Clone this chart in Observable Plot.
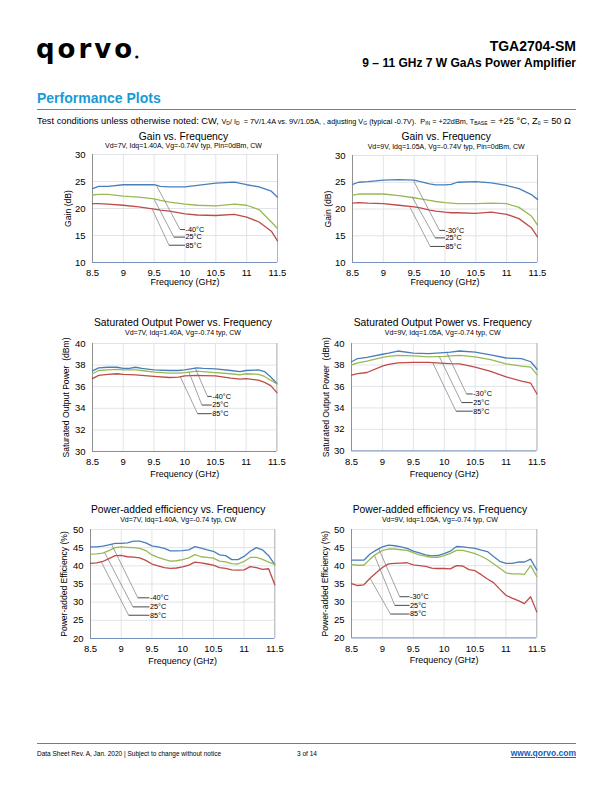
<!DOCTYPE html>
<html><head><meta charset="utf-8">
<script src="https://cdn.jsdelivr.net/npm/d3@7"></script>
<script src="https://cdn.jsdelivr.net/npm/@observablehq/plot@0.6"></script>
<style>
body{margin:0;background:#fff;}
#page{position:relative;width:612px;height:792px;overflow:hidden;font-family:"Liberation Sans",Arial,sans-serif;color:#000;background:#fff;}
.abs{position:absolute;line-height:1;white-space:nowrap;}
.ct{position:absolute;width:320px;text-align:center;line-height:1;white-space:nowrap;}
.chart{position:absolute;}
.sm{font-size:7.3px;}
sub{font-size:5px;vertical-align:-1px;}
</style></head><body><div id="page">
<div class="abs" style="left:36px;top:36px;font-family:'DejaVu Sans';font-weight:bold;font-size:26px;letter-spacing:3px;">qorvo<span style="font-size:4px;letter-spacing:0">&#9679;</span></div>
<div class="abs" style="right:36px;top:38.7px;font-weight:bold;font-size:14px;">TGA2704-SM</div>
<div class="abs" style="right:36px;top:57.1px;font-weight:bold;font-size:12px;">9 – 11 GHz 7 W GaAs Power Amplifier</div>
<div class="abs" style="left:37px;top:91.2px;font-weight:bold;font-size:14px;color:#1a9ad6;">Performance Plots</div>
<div class="abs" style="left:37px;top:109px;width:539px;height:1.4px;background:#1a9ad6;"></div>
<div class="abs" style="left:37px;top:117px;font-size:9.3px;">Test conditions unless otherwise noted: CW, <span class="sm">V<sub>D</sub>/ I<sub>D</sub> &nbsp;= 7V/1.4A vs. 9V/1.05A, , adjusting V<sub>G</sub> (typical -0.7V). &nbsp;P<sub>IN</sub> = +22dBm, T<sub>BASE</sub></span> = +25 °C, Z<sub>0</sub> = 50 Ω</div>
<div class="abs" style="left:37px;top:742.5px;width:539px;height:1.2px;background:#1a9ad6;"></div>
<div class="abs" style="left:37px;top:750.5px;font-size:6.5px;">Data Sheet Rev. A, Jan. 2020 | Subject to change without notice</div>
<div class="abs" style="left:297px;top:750.5px;font-size:6.5px;">3 of 14</div>
<div class="abs" style="right:36px;top:749px;font-size:8.5px;font-weight:bold;color:#1560bd;text-decoration:underline;">www.qorvo.com</div>
</div>
<script>
// ---------- data ----------
const seriesColors = ["#4a7ebb", "#98b954", "#be4b48"];
const xTicks = [8.5, 9, 9.5, 10, 10.5, 11, 11.5];
const gainTicks = [10, 15, 20, 25, 30];
const psatTicks = [30, 32, 34, 36, 38, 40];
const paeTicks = [20, 25, 30, 35, 40, 45, 50];

// Gain, Vd=7V
const freqGain7 = [8.5, 8.6, 8.75, 9.0, 9.25, 9.5, 9.6, 9.75, 10.0, 10.2, 10.5, 10.8, 11.0, 11.2, 11.4, 11.5];
const gain7_m40 = [23.7, 24.1, 24.1, 24.4, 24.4, 24.4, 24.1, 24.0, 24.0, 24.3, 24.7, 24.9, 24.4, 24.0, 23.2, 22.1];
const gain7_25  = [22.5, 22.6, 22.6, 22.3, 22.1, 21.8, 21.5, 21.2, 20.8, 20.6, 20.5, 20.8, 20.6, 19.8, 17.5, 16.3];
const gain7_85  = [20.9, 20.9, 20.8, 20.6, 20.3, 19.9, 19.7, 19.5, 19.0, 18.8, 18.7, 18.9, 18.4, 17.5, 15.8, 14.0];

// Gain, Vd=9V
const freqGain9 = [8.5, 8.6, 8.75, 9.0, 9.25, 9.5, 9.6, 9.75, 9.85, 10.0, 10.1, 10.2, 10.5, 10.75, 11.0, 11.2, 11.4, 11.5];
const gain9_m30 = [24.6, 25.0, 25.1, 25.4, 25.5, 25.4, 25.1, 24.7, 24.5, 24.5, 24.6, 25.0, 25.1, 24.9, 24.4, 23.8, 22.7, 21.8];
const gain9_25  = [22.6, 22.8, 22.8, 22.8, 22.5, 22.1, 21.9, 21.6, 21.4, 21.2, 21.1, 21.0, 21.0, 21.1, 21.0, 20.3, 18.7, 17.0];
const gain9_85  = [21.1, 21.2, 21.1, 21.0, 20.7, 20.4, 20.2, 19.8, 19.6, 19.4, 19.3, 19.3, 19.2, 19.4, 19.0, 18.2, 16.5, 14.8];

// Psat, Vd=7V
const freqPsat7 = [8.5, 8.6, 8.75, 8.9, 9.0, 9.1, 9.2, 9.3, 9.5, 9.75, 9.9, 10.0, 10.2, 10.3, 10.5, 10.75, 10.9, 11.0, 11.2, 11.3, 11.4, 11.5];
const psat7_m40 = [37.47, 37.75, 37.8, 37.8, 37.7, 37.7, 37.8, 37.7, 37.55, 37.5, 37.5, 37.55, 37.75, 37.7, 37.65, 37.5, 37.4, 37.5, 37.55, 37.4, 36.9, 36.3];
const psat7_25  = [37.2, 37.5, 37.55, 37.6, 37.55, 37.55, 37.55, 37.5, 37.35, 37.25, 37.25, 37.3, 37.45, 37.4, 37.3, 37.2, 37.1, 37.2, 37.15, 36.95, 36.6, 36.25];
const psat7_85  = [36.75, 37.05, 37.15, 37.2, 37.15, 37.12, 37.1, 37.05, 36.95, 36.85, 36.88, 37.0, 37.05, 37.03, 37.0, 36.8, 36.7, 36.75, 36.6, 36.4, 36.1, 35.45];

// Psat, Vd=9V
const freqPsat9 = [8.5, 8.6, 8.75, 9.0, 9.1, 9.25, 9.5, 9.75, 10.0, 10.1, 10.25, 10.5, 10.75, 11.0, 11.25, 11.4, 11.5];
const psat9_m30 = [38.3, 38.6, 38.7, 39.0, 39.1, 39.3, 39.1, 39.05, 39.15, 39.2, 39.3, 39.2, 38.95, 38.65, 38.6, 38.3, 37.6];
const psat9_25  = [38.0, 38.2, 38.35, 38.7, 38.8, 38.9, 38.85, 38.75, 38.8, 38.85, 38.9, 38.75, 38.5, 38.1, 37.9, 37.8, 37.1];
const psat9_85  = [37.05, 37.2, 37.3, 37.9, 38.05, 38.2, 38.25, 38.25, 38.15, 38.12, 38.1, 37.8, 37.4, 36.9, 36.5, 36.3, 35.3];

// PAE (both bias points)
const freqPae = [8.5, 8.6, 8.7, 8.8, 8.9, 9.0, 9.1, 9.2, 9.3, 9.4, 9.5, 9.6, 9.7, 9.8, 9.9, 10.0, 10.1, 10.2, 10.3, 10.4, 10.5, 10.6, 10.7, 10.8, 10.9, 11.0, 11.1, 11.2, 11.3, 11.4, 11.5];
const pae7_m40 = [45.2, 45.2, 45.4, 45.8, 46.2, 46.2, 46.3, 46.8, 46.8, 46.3, 45.5, 45.2, 44.8, 44.1, 44.1, 44.2, 44.4, 45.3, 44.9, 44.4, 44.0, 43.0, 42.8, 41.7, 41.7, 42.6, 44.0, 45.0, 44.4, 42.8, 40.3];
const pae7_25  = [43.2, 43.3, 43.5, 44.2, 45.0, 45.2, 45.1, 45.0, 44.8, 44.2, 43.0, 42.3, 41.8, 41.3, 41.4, 41.7, 42.2, 43.1, 42.5, 42.3, 42.1, 41.3, 41.1, 40.6, 40.5, 41.2, 42.3, 42.3, 41.8, 41.0, 40.4];
const pae7_85  = [40.7, 40.8, 41.2, 42.0, 42.8, 42.9, 42.5, 42.4, 42.2, 41.5, 40.5, 40.0, 39.5, 39.3, 39.4, 39.7, 40.2, 41.0, 40.8, 40.5, 40.2, 39.5, 39.3, 38.9, 38.8, 38.9, 39.8, 39.5, 39.0, 39.2, 34.8];
const pae9_m30 = [41.5, 41.5, 41.5, 43.2, 44.3, 45.2, 45.7, 45.5, 45.2, 44.8, 44.0, 43.5, 43.0, 42.7, 42.8, 43.3, 44.0, 45.3, 45.2, 45.0, 44.8, 44.3, 43.9, 42.5, 41.2, 40.6, 40.6, 41.0, 41.0, 41.8, 38.8];
const pae9_25  = [40.3, 40.1, 40.1, 41.8, 43.2, 44.2, 44.6, 44.6, 44.4, 44.2, 43.6, 43.0, 42.6, 42.3, 42.3, 42.8, 43.4, 44.2, 44.2, 43.8, 43.3, 42.6, 41.7, 40.5, 39.3, 38.0, 37.7, 37.7, 37.6, 40.0, 37.0];
const pae9_85  = [35.0, 34.5, 34.7, 36.5, 38.0, 39.5, 40.5, 40.6, 40.7, 40.8, 40.2, 40.0, 39.8, 39.3, 39.2, 39.2, 39.1, 40.0, 39.9, 38.9, 38.6, 37.5, 36.3, 35.3, 33.5, 31.8, 31.0, 30.3, 29.5, 31.4, 27.2];

// data-label leader lines: [curve point, elbow, label point] in data units
const leadGain7 = [
  {label: "-40°C", pts: [[9.53, 24.4], [9.92, 16.1], [10.0, 16.1]]},
  {label: "25°C",  pts: [[9.50, 21.7], [9.82, 14.7], [10.0, 14.7]]},
  {label: "85°C",  pts: [[9.46, 20.1], [9.74, 13.2], [10.0, 13.2]]}];
const leadGain9 = [
  {label: "-30°C", pts: [[9.49, 25.3], [9.91, 16.0], [10.0, 16.0]]},
  {label: "25°C",  pts: [[9.47, 22.2], [9.84, 14.6], [10.0, 14.6]]},
  {label: "85°C",  pts: [[9.42, 20.6], [9.76, 13.0], [10.0, 13.0]]}];
const leadPsat7 = [
  {label: "-40°C", pts: [[10.17, 37.75], [10.37, 35.1], [10.44, 35.1]]},
  {label: "25°C",  pts: [[10.07, 37.35], [10.28, 34.3], [10.44, 34.3]]},
  {label: "85°C",  pts: [[9.93, 36.9], [10.21, 33.5], [10.44, 33.5]]}];
const leadPsat9 = [
  {label: "-30°C", pts: [[10.04, 39.17], [10.36, 35.3], [10.46, 35.3]]},
  {label: "25°C",  pts: [[9.92, 38.78], [10.28, 34.5], [10.46, 34.5]]},
  {label: "85°C",  pts: [[9.81, 38.25], [10.19, 33.7], [10.46, 33.7]]}];
const leadPae7 = [
  {label: "-40°C", pts: [[8.84, 46.0], [9.27, 31.2], [9.46, 31.2]]},
  {label: "25°C",  pts: [[8.73, 43.6], [9.19, 28.7], [9.46, 28.7]]},
  {label: "85°C",  pts: [[8.67, 41.3], [9.12, 26.4], [9.46, 26.4]]}];
const leadPae9 = [
  {label: "-30°C", pts: [[8.94, 44.7], [9.28, 31.4], [9.44, 31.4]]},
  {label: "25°C",  pts: [[8.87, 42.9], [9.20, 29.0], [9.44, 29.0]]},
  {label: "85°C",  pts: [[8.80, 36.5], [9.13, 26.6], [9.44, 26.6]]}];

// ---------- drawing ----------
const page = document.getElementById("page");
function addText(cls, txt, cx, top, size) {
  const d = document.createElement("div");
  d.className = cls; d.textContent = txt;
  d.style.left = (cx - 160) + "px"; d.style.top = top + "px"; d.style.fontSize = size + "px";
  page.appendChild(d);
}
function makeChart(c) {
  const mL = 40, mR = 22, mT = 8, mB = 32;
  const w = c.right - c.left, h = c.bottom - c.top;
  const lines = c.series.map((vals, i) =>
    Plot.line(vals.map((v, j) => ({f: c.freq[j], v})), {x: "f", y: "v", stroke: seriesColors[i], strokeWidth: 1.3}));
  const svg = Plot.plot({
    width: w + mL + mR, height: h + mT + mB,
    marginLeft: mL, marginRight: mR, marginTop: mT, marginBottom: mB,
    style: {fontFamily: "'Liberation Sans', Arial, sans-serif", fontSize: "9.5px", color: "#000", background: "transparent", overflow: "visible"},
    x: {domain: [8.5, 11.5], ticks: xTicks, tickFormat: d => String(d), tickSize: 0, tickPadding: 7, label: null},
    y: {domain: [c.yTicks[0], c.yTicks[c.yTicks.length - 1]], ticks: c.yTicks, tickSize: 0, tickPadding: 7, label: null},
    marks: [
      Plot.ruleY(c.yTicks, {stroke: "#d9dde2", strokeWidth: 0.8}),
      Plot.ruleX(xTicks, {stroke: "#d9dde2", strokeWidth: 0.8}),
      Plot.ruleX([11.5], {stroke: "#a6a6a6", strokeWidth: 0.8}),
      Plot.ruleX([8.5], {stroke: "#868686", strokeWidth: 0.9}),
      Plot.ruleY([c.yTicks[0]], {stroke: "#6a88b8", strokeWidth: 0.9}),
      ...lines,
      Plot.link(c.leaders, {x1: d => d.pts[0][0], y1: d => d.pts[0][1], x2: d => d.pts[1][0], y2: d => d.pts[1][1], stroke: "#7a7a7a", strokeWidth: 0.7}),
      Plot.link(c.leaders, {x1: d => d.pts[1][0], y1: d => d.pts[1][1], x2: d => d.pts[2][0], y2: d => d.pts[2][1], stroke: "#333", strokeWidth: 0.9}),
      Plot.text(c.leaders, {x: d => d.pts[2][0], y: d => d.pts[2][1], text: "label", textAnchor: "start", dx: 0.5, fontSize: 7.3, lineAnchor: "middle"}),
      Plot.text([c.ylabel], {text: d => d, frameAnchor: "left", rotate: -90, dx: c.yLabelDx, textAnchor: "middle", lineAnchor: "middle", fontSize: 8.6}),
      Plot.text(["Frequency (GHz)"], {text: d => d, frameAnchor: "bottom", dy: c.xLabelDy, textAnchor: "middle", lineAnchor: "middle", fontSize: 9})
    ]
  });
  const holder = document.createElement("div");
  holder.className = "chart";
  holder.style.left = (c.left - mL) + "px";
  holder.style.top = (c.top - mT) + "px";
  holder.appendChild(svg);
  page.appendChild(holder);
  const cx = (c.left + c.right) / 2 + c.titleShift;
  addText("ct", c.title, cx, c.titleY - 5.0, 10.3);
  addText("ct", c.subtitle, cx, c.titleY + 9.2 - 3.4, 7);
}

const charts = [
  {left: 92, right: 277, top: 154.3, bottom: 262.3, yTicks: gainTicks, freq: freqGain7, series: [gain7_m40, gain7_25, gain7_85], leaders: leadGain7,
   title: "Gain vs. Frequency", subtitle: "Vd=7V, Idq=1.40A, Vg=-0.74V typ, Pin=0dBm, CW", ylabel: "Gain (dB)", yLabelDx: -24, xLabelDy: 20, titleY: 136.5, titleShift: -1},
  {left: 351.7, right: 536.7, top: 155, bottom: 262, yTicks: gainTicks, freq: freqGain9, series: [gain9_m30, gain9_25, gain9_85], leaders: leadGain9,
   title: "Gain vs. Frequency", subtitle: "Vd=9V, Idq=1.05A, Vg=-0.74V typ, Pin=0dBm, CW", ylabel: "Gain (dB)", yLabelDx: -24, xLabelDy: 20, titleY: 136.7, titleShift: 2},
  {left: 92.3, right: 276.7, top: 342.7, bottom: 450.7, yTicks: psatTicks, freq: freqPsat7, series: [psat7_m40, psat7_25, psat7_85], leaders: leadPsat7,
   title: "Saturated Output Power vs. Frequency", subtitle: "Vd=7V, Idq=1.40A, Vg=-0.74 typ, CW", ylabel: "Saturated Output Power  (dBm)", yLabelDx: -26, xLabelDy: 23, titleY: 322.7, titleShift: -1.5},
  {left: 350.5, right: 536, top: 343.3, bottom: 450.7, yTicks: psatTicks, freq: freqPsat9, series: [psat9_m30, psat9_25, psat9_85], leaders: leadPsat9,
   title: "Saturated Output Power vs. Frequency", subtitle: "Vd=9V, Idq=1.05A, Vg=-0.74 typ, CW", ylabel: "Saturated Output Power  (dBm)", yLabelDx: -25.5, xLabelDy: 23, titleY: 322.7, titleShift: -0.5},
  {left: 90, right: 274.3, top: 529.3, bottom: 638.3, yTicks: paeTicks, freq: freqPae, series: [pae7_m40, pae7_25, pae7_85], leaders: leadPae7,
   title: "Power-added efficiency vs. Frequency", subtitle: "Vd=7V, Idq=1.40A, Vg=-0.74 typ, CW", ylabel: "Power-added Efficiency (%)", yLabelDx: -26, xLabelDy: 22.4, titleY: 510, titleShift: -4},
  {left: 350.7, right: 536, top: 529.3, bottom: 637.7, yTicks: paeTicks, freq: freqPae, series: [pae9_m30, pae9_25, pae9_85], leaders: leadPae9,
   title: "Power-added efficiency vs. Frequency", subtitle: "Vd=9V, Idq=1.05A, Vg=-0.74 typ, CW", ylabel: "Power-added Efficiency (%)", yLabelDx: -26, xLabelDy: 22.4, titleY: 510, titleShift: -3.5}
];
charts.forEach(makeChart);
</script>
</body></html>
